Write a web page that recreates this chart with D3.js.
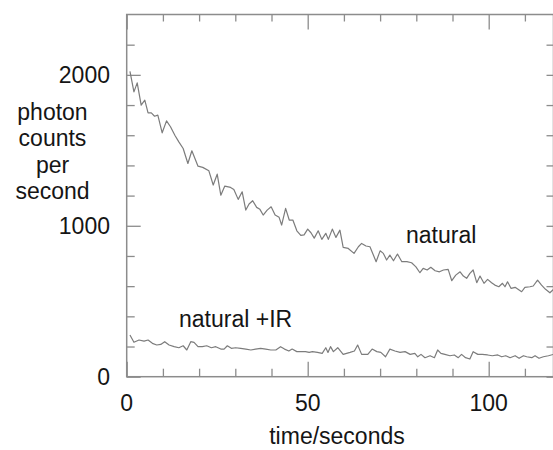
<!DOCTYPE html>
<html>
<head>
<meta charset="utf-8">
<script src="https://cdn.jsdelivr.net/npm/d3@7.9.0/dist/d3.min.js"></script>
<style>
  body { margin: 0; background: #fff; }
  svg text { font-family: "Liberation Sans", Arial, sans-serif; font-size: 23px; fill: #151515; }
</style>
</head>
<body>
<svg id="chart" width="553" height="450"></svg>
<script>
// natural decay, sampled roughly once per second
const naturalTime = [0.9,2.0,2.9,4.0,5.0,5.9,6.8,7.7,8.6,9.8,
  11.0,12.1,13.3,14.4,15.6,16.9,18.0,19.7,21.0,22.7,
  23.9,25.0,26.0,27.1,28.7,29.6,30.8,31.9,32.9,33.8,
  34.8,35.9,36.8,37.7,38.8,39.9,41.0,42.1,42.8,43.9,
  44.9,45.9,47.0,48.1,49.0,50.0,50.9,51.8,52.9,53.9,
  55.0,55.7,56.8,57.8,58.9,59.8,61.2,62.8,64.0,64.9,
  66.1,67.2,68.9,70.0,70.9,71.8,72.7,73.7,74.8,76.0,
  77.4,78.7,79.9,81.0,81.9,83.0,84.0,85.2,86.4,87.5,
  88.8,89.8,90.9,92.1,93.0,93.9,94.8,95.7,96.7,97.6,
  98.7,99.7,100.8,101.7,102.8,103.8,104.5,105.2,106.2,107.3,
  108.4,109.1,110.0,111.4,112.3,113.5,114.6,115.7,116.9,117.9];
const naturalCounts = [2023,1887,1947,1800,1832,1748,1748,1726,1733,1616,
  1695,1656,1600,1556,1512,1413,1497,1395,1387,1364,
  1270,1342,1203,1263,1254,1241,1175,1225,1104,1144,
  1166,1122,1109,1071,1104,1126,1071,1056,1005,1115,
  1038,1038,967,936,940,978,954,918,967,910,
  950,910,978,923,971,857,850,817,861,883,
  866,861,762,834,817,773,806,768,813,762,
  762,755,728,689,718,707,725,702,695,707,
  711,636,673,695,667,652,685,707,623,667,
  619,645,623,607,596,619,596,629,585,592,
  574,563,592,596,601,640,607,579,556,579];

// natural + IR
const irTime = [0.9,2.0,3.4,4.8,5.9,7.1,8.3,9.4,10.5,11.7,
  13.1,14.4,15.6,16.6,17.7,18.6,19.7,20.9,22.1,23.4,
  24.6,26.0,26.9,27.8,28.9,30.1,31.5,32.9,34.3,35.6,
  37.0,38.4,39.8,41.2,42.5,43.6,44.8,45.7,47.0,48.1,
  49.4,50.4,51.3,52.7,54.0,55.0,55.6,56.3,57.1,58.3,
  59.8,61.7,62.9,63.8,64.9,66.6,67.8,69.1,70.2,71.5,
  72.7,74.1,75.5,76.9,78.3,79.6,80.4,81.3,82.4,83.8,
  85.0,85.9,86.8,87.9,89.3,90.5,91.6,92.5,93.6,94.8,
  95.7,97.0,98.2,99.7,101.0,102.5,103.6,104.7,105.9,107.3,
  108.4,109.6,110.5,111.9,112.8,113.9,115.1,116.5,117.9];
const irCounts = [276,228,243,236,243,221,210,214,232,210,
  199,192,205,177,232,228,199,199,205,192,
  199,183,183,205,188,192,188,183,177,183,
  188,183,177,177,199,183,170,183,166,166,
  166,161,166,161,155,192,161,199,166,192,
  148,161,170,210,148,148,183,166,161,132,
  183,170,161,166,148,155,132,148,126,139,
  126,177,155,148,139,144,126,148,126,117,
  166,148,148,144,139,144,132,139,126,139,
  122,139,132,126,139,122,132,139,148];

// ticks and labels
const xMinorTicks = [10,20,30,40,60,70,80,90,110];
const xMajorTicks = [0,50,100];
const yMinorTicks = [200,400,600,800,1200,1400,1600,1800,2200];
const yMajorTicks = [0,1000,2000];
const xTitle = "time/seconds";
const yTitle = ["photon","counts","per","second"];

const svg = d3.select('#chart');

// scales (right edge of the plot runs off the picture)
const x = d3.scaleLinear().domain([0, 117.9]).range([126.7, 553.5]);
const y = d3.scaleLinear().domain([0, 2400]).range([376.7, 14.5]);

const axisColor = '#8c8c8c';

// frame
svg.append('rect')
  .attr('x', x(0)).attr('y', y(2400))
  .attr('width', x(117.9) - x(0)).attr('height', y(0) - y(2400))
  .attr('fill', 'none').attr('stroke', axisColor).attr('stroke-width', 1.5);

// inward ticks on every side: minor short, major long
function tickAxis(axisFn, scale, values, size, transform) {
  const g = svg.append('g')
    .attr('transform', transform)
    .call(axisFn(scale).tickValues(values).tickSize(size).tickFormat(''));
  g.select('.domain').remove();
  g.selectAll('line').attr('stroke', axisColor).attr('stroke-width', 1.3);
}
tickAxis(d3.axisTop, x, xMinorTicks, 8, `translate(0,${y(0)})`);
tickAxis(d3.axisTop, x, xMajorTicks, 15, `translate(0,${y(0)})`);
tickAxis(d3.axisBottom, x, xMinorTicks, 7, `translate(0,${y(2400)})`);
tickAxis(d3.axisBottom, x, xMajorTicks, 15, `translate(0,${y(2400)})`);
tickAxis(d3.axisRight, y, yMinorTicks, 8, `translate(${x(0)},0)`);
tickAxis(d3.axisRight, y, yMajorTicks, 14, `translate(${x(0)},0)`);
tickAxis(d3.axisLeft, y, yMinorTicks, 7, `translate(${x(117.9)},0)`);
tickAxis(d3.axisLeft, y, yMajorTicks, 7, `translate(${x(117.9)},0)`);

// tick labels
svg.selectAll('.xlab').data(xMajorTicks).join('text')
  .attr('x', d => x(d)).attr('y', 411)
  .attr('text-anchor', 'middle').text(d => d);
svg.selectAll('.ylab').data(yMajorTicks).join('text')
  .attr('x', 110).attr('y', d => y(d) + 8)
  .attr('text-anchor', 'end').text(d => d);

// axis titles
svg.append('text').attr('x', 337).attr('y', 444)
  .attr('text-anchor', 'middle').text(xTitle);
svg.selectAll('.ytitle').data(yTitle).join('text')
  .attr('x', 52.5).attr('y', (d, i) => 120 + i * 26.3)
  .attr('text-anchor', 'middle').text(d => d);

// the two decay curves
const line = d3.line().x(d => x(d[0])).y(d => y(d[1]));
[d3.zip(naturalTime, naturalCounts), d3.zip(irTime, irCounts)].forEach(series => {
  svg.append('path')
    .attr('d', line(series))
    .attr('fill', 'none')
    .attr('stroke', '#7c7c7c')
    .attr('stroke-width', 1.2)
    .attr('stroke-linejoin', 'round');
});

// series labels
svg.append('text').attr('x', 406).attr('y', 243).text('natural');
svg.append('text').attr('x', 179).attr('y', 327).text('natural +IR');
</script>
</body>
</html>
